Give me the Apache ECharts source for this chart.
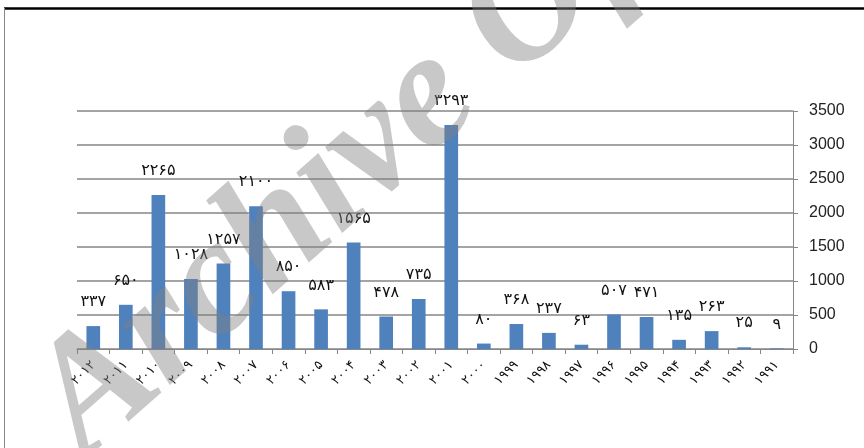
<!DOCTYPE html>
<html><head><meta charset="utf-8">
<script src="https://cdn.jsdelivr.net/npm/echarts@6/dist/echarts.min.js"></script>
<style>html,body{margin:0;padding:0;background:#fff}#c{width:864px;height:448px}</style>
</head><body><div id="c"></div>
<script>
var categories = ['۲۰۱۲','۲۰۱۱','۲۰۱۰','۲۰۰۹','۲۰۰۸','۲۰۰۷','۲۰۰۶','۲۰۰۵','۲۰۰۴','۲۰۰۳','۲۰۰۲','۲۰۰۱','۲۰۰۰','۱۹۹۹','۱۹۹۸','۱۹۹۷','۱۹۹۶','۱۹۹۵','۱۹۹۴','۱۹۹۳','۱۹۹۲','۱۹۹۱'];
var values = [337,650,2265,1028,1257,2100,850,583,1565,478,735,3293,80,368,237,63,507,471,135,263,25,9];
var valueLabels = ['۳۳۷','۶۵۰','۲۲۶۵','۱۰۲۸','۱۲۵۷','۲۱۰۰','۸۵۰','۵۸۳','۱۵۶۵','۴۷۸','۷۳۵','۳۲۹۳','۸۰','۳۶۸','۲۳۷','۶۳','۵۰۷','۴۷۱','۱۳۵','۲۶۳','۲۵','۹'];
var yTicks = {min:0, max:3500, interval:500};
var watermark = 'Archive Of SID';

var chart = echarts.init(document.getElementById('c'));
chart.setOption({
  animation:false,
  backgroundColor:'#fff',
  grid:{left:77,right:71,top:111,bottom:99},
  xAxis:{type:'category',data:categories,
    axisLine:{lineStyle:{color:'#868686',width:1}},
    axisTick:{show:true,length:5,lineStyle:{color:'#868686'}},
    axisLabel:{rotate:45,interval:0,margin:14,fontFamily:'DejaVu Sans',fontSize:13,color:'#111'}},
  yAxis:{type:'value',position:'right',min:yTicks.min,max:yTicks.max,interval:yTicks.interval,
    axisLine:{show:true,lineStyle:{color:'#868686'}},
    axisTick:{show:true,length:5,lineStyle:{color:'#868686'}},
    splitLine:{lineStyle:{color:'#868686',width:1.5}},
    axisLabel:{margin:16,fontFamily:'Liberation Sans Narrow, Liberation Sans',fontSize:16,color:'#222',
      formatter:function(v){return String(v);}}},
  series:[{type:'bar',data:values,barWidth:'42%',
    itemStyle:{color:'#4f81bd'},
    label:{show:true,position:'top',distance:16,fontFamily:'DejaVu Sans',fontSize:16,color:'#111',
      formatter:function(p){return valueLabels[p.dataIndex];}}}],
  graphic:[
    {type:'line',shape:{x1:4,y1:8.5,x2:864,y2:8.5},style:{stroke:'#000',lineWidth:2.5},z:50},
    {type:'line',shape:{x1:4.5,y1:8,x2:4.5,y2:448},style:{stroke:'#888',lineWidth:1},z:50},
    {type:'text',x:111,y:490,rotation:Math.PI*0.23,z:100,
      style:{text:watermark,font:'italic bold 165px "Liberation Serif"',fill:'rgba(128,128,128,0.43)',textAlign:'left',textVerticalAlign:'bottom'}}
  ]
});
</script></body></html>
